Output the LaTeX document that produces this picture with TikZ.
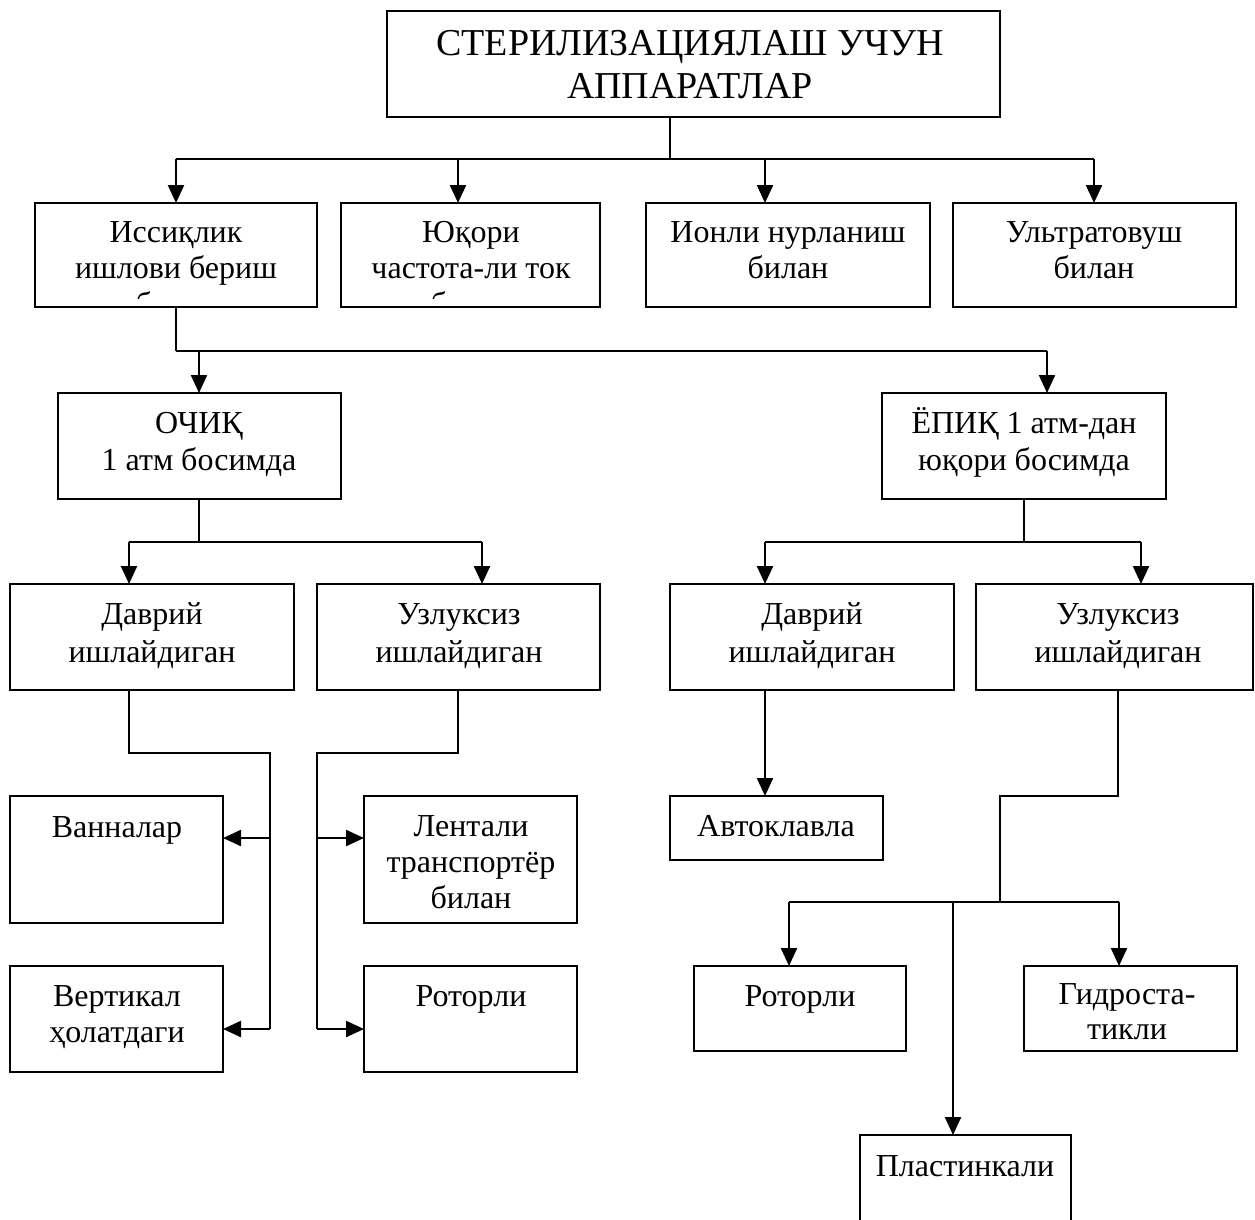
\documentclass[tikz,border=0pt]{standalone}
\usepackage{fontspec}
\setmainfont{Liberation Serif}
\usetikzlibrary{arrows.meta}
\begin{document}
\begin{tikzpicture}[x=1pt,y=-1pt,
  box/.style={draw, line width=1.8pt, inner sep=0pt, outer sep=0pt},
  txt/.style={font=\fontsize{32}{37}\selectfont, inner sep=0pt, anchor=base},
  ttl/.style={font=\fontsize{38}{43}\selectfont, inner sep=0pt, anchor=base},
  link/.style={line width=1.5pt},
  bus/.style={line width=2pt},
  arr/.style={line width=2.3pt, -{Triangle[length=18pt,width=16pt]}}]
\useasboundingbox (0,0) rectangle (1255,1219);

% ---------- boxes ----------
\node[box, minimum width=613, minimum height=106] (T)  at (693.5,64) {};
\node[box, minimum width=282, minimum height=104] (B1) at (176,255) {};
\node[box, minimum width=259, minimum height=104] (B2) at (470.5,255) {};
\node[box, minimum width=284, minimum height=104] (B3) at (788,255) {};
\node[box, minimum width=283, minimum height=104] (B4) at (1094.5,255) {};
\node[box, minimum width=283, minimum height=106] (O)  at (199.5,446) {};
\node[box, minimum width=284, minimum height=106] (E)  at (1024,446) {};
\node[box, minimum width=284, minimum height=106] (D1) at (152,637) {};
\node[box, minimum width=283, minimum height=106] (U1) at (458.5,637) {};
\node[box, minimum width=284, minimum height=106] (D2) at (812,637) {};
\node[box, minimum width=277, minimum height=106] (U2) at (1114.5,637) {};
\node[box, minimum width=213, minimum height=127] (V)  at (116.5,859.5) {};
\node[box, minimum width=213, minimum height=106] (W)  at (116.5,1019) {};
\node[box, minimum width=213, minimum height=127] (L)  at (470.5,859.5) {};
\node[box, minimum width=213, minimum height=106] (R1) at (470.5,1019) {};
\node[box, minimum width=213, minimum height=64]  (A)  at (776.5,828) {};
\node[box, minimum width=212, minimum height=85]  (R2) at (800,1008.5) {};
\node[box, minimum width=213, minimum height=85]  (G)  at (1130.5,1008.5) {};
\node[box, minimum width=211, minimum height=120] (P)  at (965.5,1195) {};

% ---------- texts ----------
\node[ttl] (tT1) at (690,55) {СТЕРИЛИЗАЦИЯЛАШ УЧУН};
\node[ttl] (tT2) at (690,98) {АППАРАТЛАР};
\node[txt] (tB1a) at (176,242) {Иссиқлик};
\node[txt] (tB1b) at (176,278) {ишлови бериш};
\node[txt] (tB2a) at (471,242) {Юқори};
\node[txt] (tB2b) at (471,278) {частота-ли ток};
\begin{scope}
  \clip (35,203) rectangle (600,298);
  \node[txt] (tB1c) at (176,314) {билан};
  \node[txt] (tB2c) at (471,314) {билан};
\end{scope}
\node[txt] (tB3a) at (788,242) {Ионли нурланиш};
\node[txt] (tB3b) at (788,278) {билан};
\node[txt] (tB4a) at (1094,242) {Ультратовуш};
\node[txt] (tB4b) at (1094,278) {билан};
\node[txt] (tOa) at (199,433) {ОЧИҚ};
\node[txt] (tOb) at (199,470) {1 атм босимда};
\node[txt] (tEa) at (1024,433) {ЁПИҚ 1 атм-дан};
\node[txt] (tEb) at (1024,470) {юқори босимда};
\node[txt] (tD1a) at (152,624) {Даврий};
\node[txt] (tD1b) at (152,662) {ишлайдиган};
\node[txt] (tU1a) at (459,624) {Узлуксиз};
\node[txt] (tU1b) at (459,662) {ишлайдиган};
\node[txt] (tD2a) at (812,624) {Даврий};
\node[txt] (tD2b) at (812,662) {ишлайдиган};
\node[txt] (tU2a) at (1118,624) {Узлуксиз};
\node[txt] (tU2b) at (1118,662) {ишлайдиган};
\node[txt] (tV) at (117,837) {Ванналар};
\node[txt] (tWa) at (117,1006) {Вертикал};
\node[txt] (tWb) at (117,1042) {ҳолатдаги};
\node[txt] (tLa) at (471,836) {Лентали};
\node[txt] (tLb) at (471,872) {транспортёр};
\node[txt] (tLc) at (471,908) {билан};
\node[txt] (tR1) at (471,1006) {Роторли};
\node[txt] (tA) at (776,836) {Автоклавла};
\node[txt] (tR2) at (800,1006) {Роторли};
\node[txt] (tGa) at (1127,1004) {Гидроста-};
\node[txt] (tGb) at (1127,1039) {тикли};
\node[txt] (tP) at (965,1176) {Пластинкали};

% ---------- level 1 ----------
\coordinate (j0) at (670,159);
\coordinate (h1) at (176,159);
\coordinate (h2) at (458,159);
\coordinate (h3) at (765,159);
\coordinate (h4) at (1094,159);
\draw[link] (T.south -| j0) -- (j0);
\draw[bus] (h1) -- (h4);
\draw[arr] (h1) -- (h1 |- B1.north);
\draw[arr] (h2) -- (h2 |- B2.north);
\draw[arr] (h3) -- (h3 |- B3.north);
\draw[arr] (h4) -- (h4 |- B4.north);

% ---------- level 2 ----------
\coordinate (k0) at (176,351);
\coordinate (k1) at (199,351);
\coordinate (k2) at (1047,351);
\draw[link] (k0 |- B1.south) -- (k0);
\draw[bus] (k0) -- (k2);
\draw[arr] (k1) -- (k1 |- O.north);
\draw[arr] (k2) -- (k2 |- E.north);

% ---------- level 3 ----------
\coordinate (m0) at (199,542);
\coordinate (m1) at (129,542);
\coordinate (m2) at (482,542);
\draw[link] (m0 |- O.south) -- (m0);
\draw[bus] (m1) -- (m2);
\draw[arr] (m1) -- (m1 |- D1.north);
\draw[arr] (m2) -- (m2 |- U1.north);
\coordinate (n0) at (1024,542);
\coordinate (n1) at (765,542);
\coordinate (n2) at (1141,542);
\draw[link] (n0 |- E.south) -- (n0);
\draw[bus] (n1) -- (n2);
\draw[arr] (n1) -- (n1 |- D2.north);
\draw[arr] (n2) -- (n2 |- U2.north);

% ---------- left group ----------
\coordinate (p0) at (129,753);
\coordinate (p1) at (270,753);
\coordinate (p2) at (270,838);
\coordinate (p3) at (270,1029);
\draw[link] (p0 |- D1.south) -- (p0) -- (p1) -- (p3);
\draw[arr] (p2) -- (p2 -| V.east);
\draw[arr] (p3) -- (p3 -| W.east);
\coordinate (q0) at (458,753);
\coordinate (q1) at (317,753);
\coordinate (q2) at (317,838);
\coordinate (q3) at (317,1029);
\draw[link] (q0 |- U1.south) -- (q0) -- (q1) -- (q3);
\draw[arr] (q2) -- (q2 -| L.west);
\draw[arr] (q3) -- (q3 -| R1.west);

% ---------- right group ----------
\coordinate (r0) at (765,700);
\draw[arr] (r0 |- D2.south) -- (r0 |- A.north);
\coordinate (s0) at (1118,796);
\coordinate (s1) at (1000,796);
\coordinate (s2) at (1000,902);
\coordinate (s3) at (789,902);
\coordinate (s4) at (1119,902);
\coordinate (s5) at (953,902);
\draw[link] (s0 |- U2.south) -- (s0) -- (s1) -- (s2);
\draw[bus] (s3) -- (s4);
\draw[arr] (s3) -- (s3 |- R2.north);
\draw[arr] (s4) -- (s4 |- G.north);
\draw[arr] (s5) -- (s5 |- P.north);
\end{tikzpicture}
\end{document}
